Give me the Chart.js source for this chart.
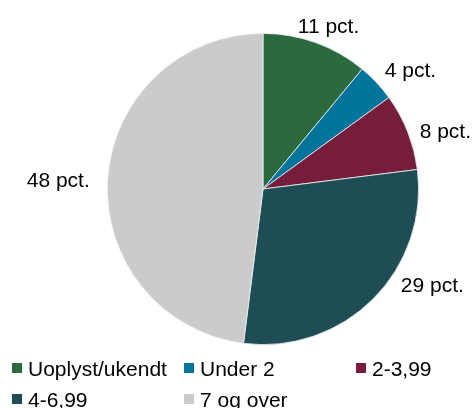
<!DOCTYPE html>
<html>
<head>
<meta charset="utf-8">
<script src="https://cdn.jsdelivr.net/npm/chart.js@4"></script>
<style>
  html, body { margin: 0; padding: 0; background: #ffffff; }
  #wrap { width: 474px; height: 408px; position: relative; }
</style>
</head>
<body>
<div id="wrap"><canvas id="c" width="474" height="408"></canvas></div>
<script>
// ---- data ----
const categories = ["Uoplyst/ukendt", "Under 2", "2-3,99", "4-6,99", "7 og over"];
const shares = [11, 4, 8, 29, 48];
const labelSuffix = " pct.";
const colors = ["#2b6a3f", "#00749b", "#761d3c", "#1f4d55", "#cbcbcb"];

const FONT = '21px "Liberation Sans", Arial, sans-serif';

const labelPlugin = {
  id: 'outLabels',
  afterDatasetsDraw(chart, args, opts) {
    const ctx = chart.ctx;
    const meta = chart.getDatasetMeta(0);
    ctx.save();
    ctx.font = FONT;
    ctx.fillStyle = '#000000';
    ctx.textAlign = 'center';
    ctx.textBaseline = 'alphabetic';
    const capH = 15;
    meta.data.forEach((arc, i) => {
      const p = arc.getProps(['x', 'y', 'startAngle', 'endAngle', 'outerRadius'], true);
      const mid = (p.startAngle + p.endAngle) / 2;
      const r = p.outerRadius + 10;
      const ax = p.x + Math.cos(mid) * r;
      const ay = p.y + Math.sin(mid) * r;
      const text = shares[i] + labelSuffix;
      const w = ctx.measureText(text).width;
      const n = opts.nudge[i] || [0, 0];
      const cx = ax + Math.cos(mid) * w / 2 + n[0];
      const cy = ay + Math.sin(mid) * capH / 2 + n[1];
      ctx.fillText(text, cx, cy + capH / 2);
    });
    ctx.restore();
  }
};

const legendPlugin = {
  id: 'gridLegend',
  afterDraw(chart, args, opts) {
    const ctx = chart.ctx;
    ctx.save();
    ctx.font = FONT;
    ctx.textBaseline = 'alphabetic';
    categories.forEach((name, i) => {
      const col = i % 3, row = Math.floor(i / 3);
      const x = opts.colX[col];
      const yc = opts.rowY[row];
      ctx.fillStyle = colors[i];
      ctx.fillRect(x, yc - 5, 10, 10);
      ctx.fillStyle = '#000000';
      ctx.textAlign = 'left';
      ctx.fillText(name, x + 16, yc + 7.5);
    });
    ctx.restore();
  }
};

new Chart(document.getElementById('c'), {
  type: 'pie',
  data: {
    labels: categories,
    datasets: [{
      data: shares,
      backgroundColor: colors,
      borderColor: '#f2f2f2',
      borderWidth: 0.8,
      hoverOffset: 0,
      offset: 0
    }]
  },
  options: {
    responsive: false,
    animation: false,
    events: [],
    layout: { padding: { left: 107, right: 55, top: 33, bottom: 63 } },
    plugins: {
      legend: { display: false },
      tooltip: { enabled: false },
      outLabels: { nudge: [[-1, -1], [8, -1], [4.5, 5.5], [30, -27], [-8, 1]] },
      gridLegend: { colX: [12, 184, 356], rowY: [368, 399] }
    }
  },
  plugins: [labelPlugin, legendPlugin]
});
</script>
</body>
</html>
